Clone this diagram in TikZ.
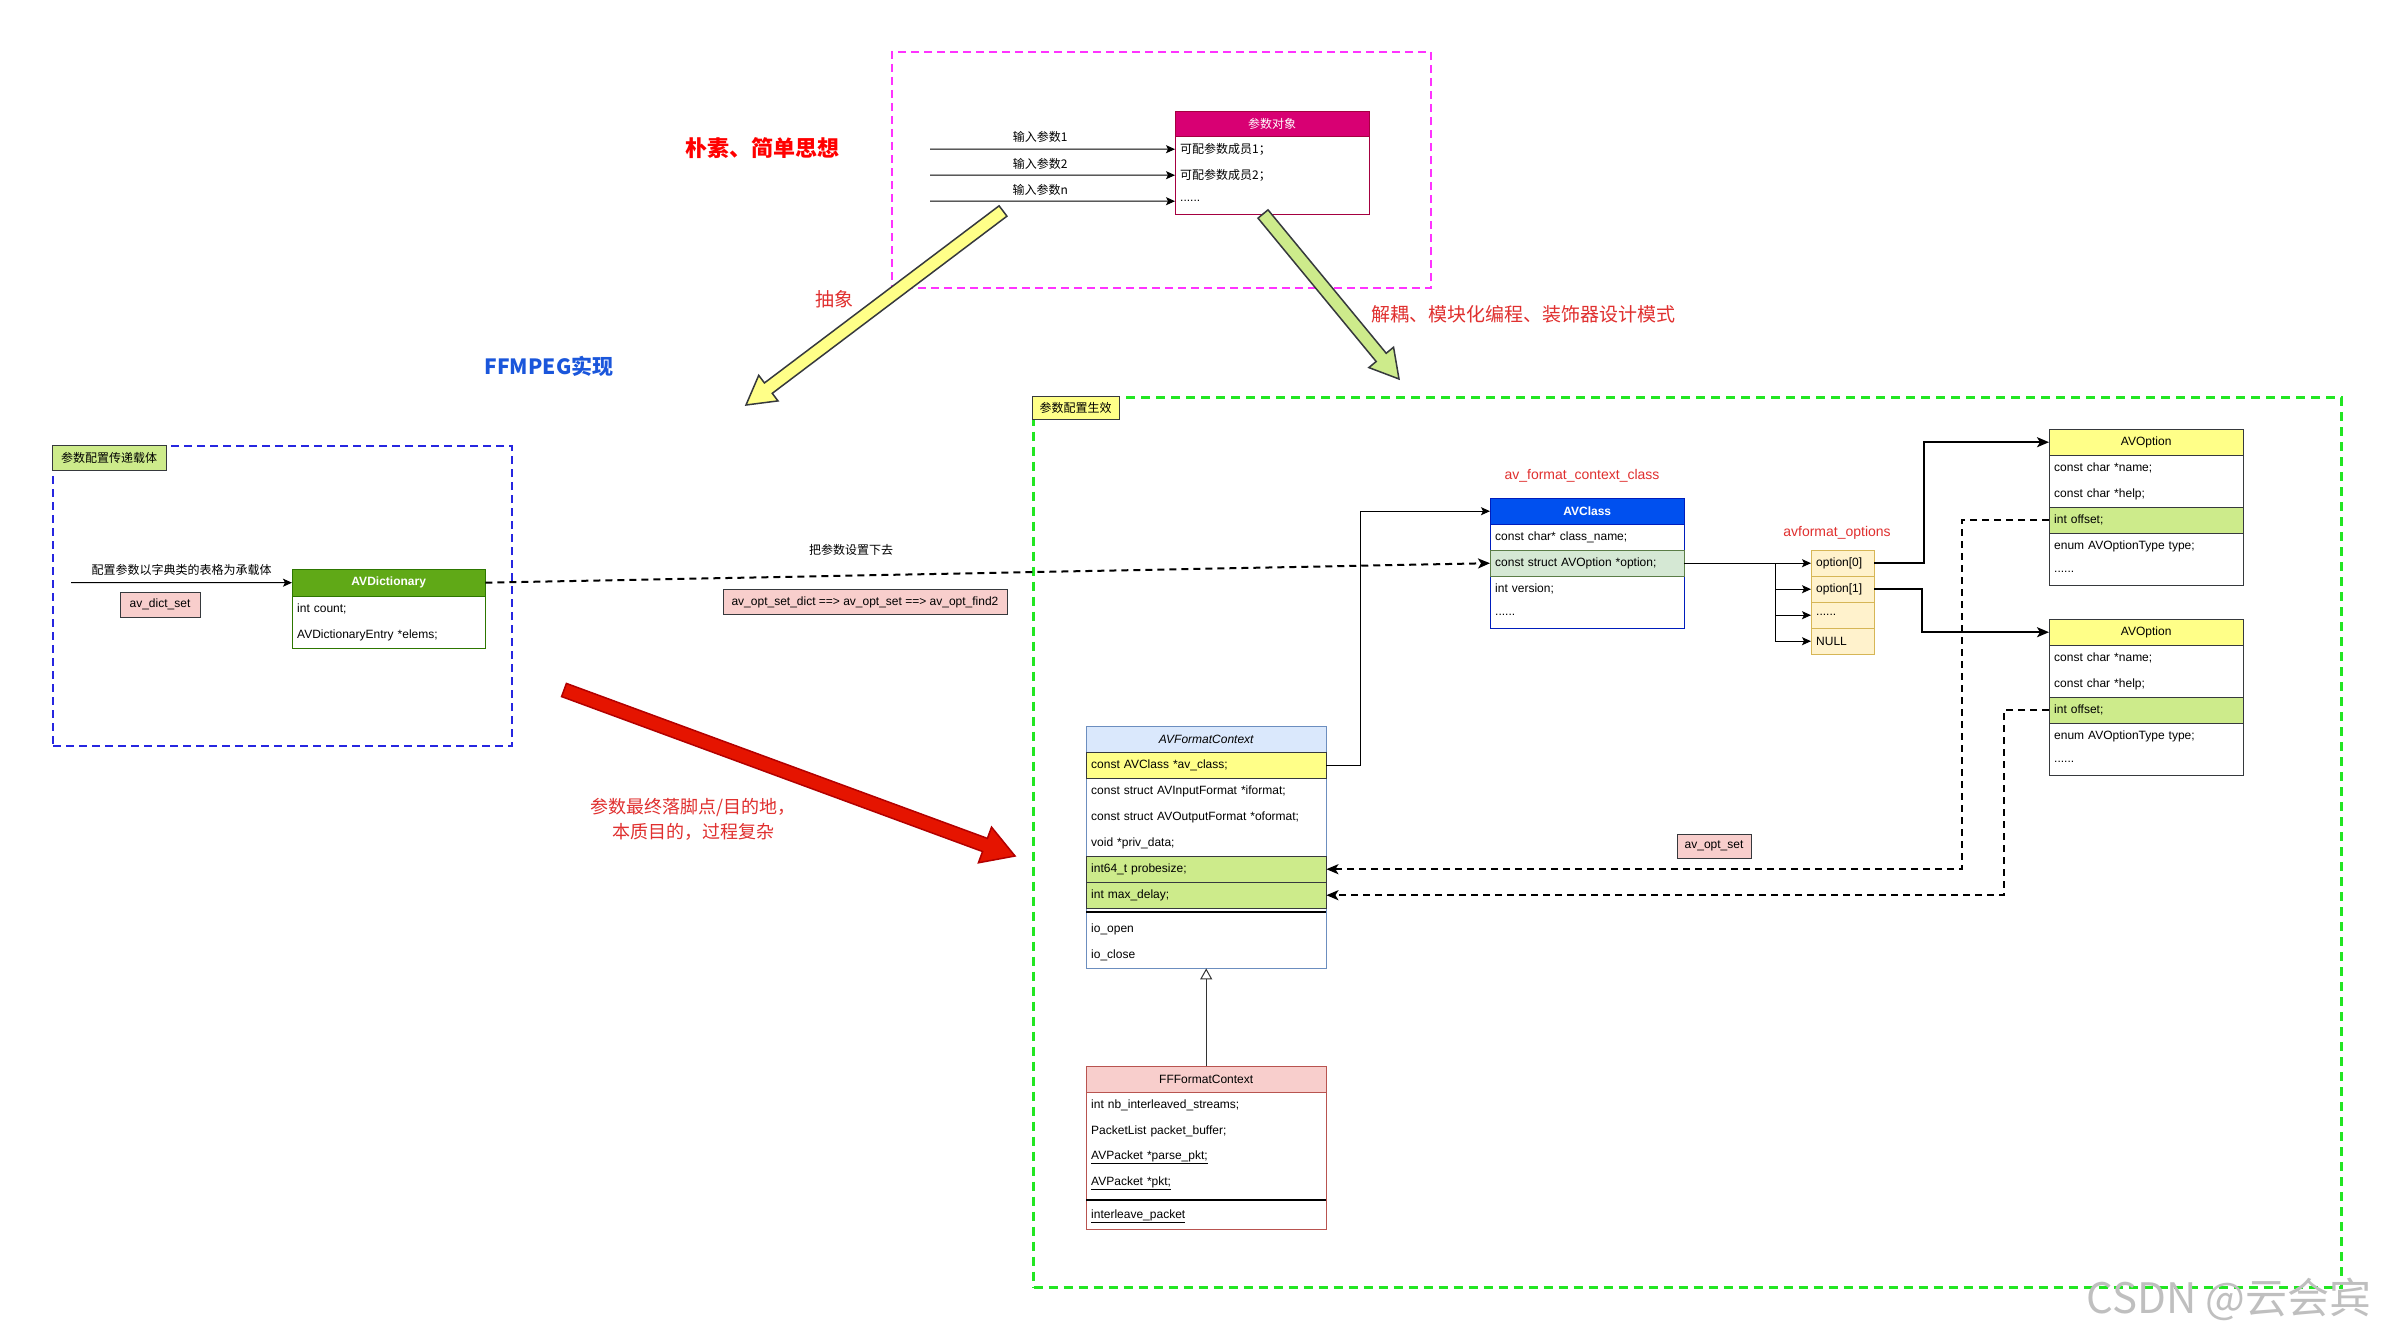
\documentclass[tikz,border=0pt]{standalone}
\usepackage{fontspec}
\setmainfont{Liberation Sans}
\newfontfamily\cjk{Noto Sans CJK SC}
\usetikzlibrary{calc,arrows.meta}
\definecolor{objfill}{HTML}{D80073}
\definecolor{objline}{HTML}{A50040}
\definecolor{dictfill}{HTML}{60A917}
\definecolor{dictline}{HTML}{2D7600}
\definecolor{clsfill}{HTML}{0050EF}
\definecolor{clsline}{HTML}{001DBC}
\definecolor{greenrow}{HTML}{CDEB8B}
\definecolor{optrowfill}{HTML}{D5E8D4}
\definecolor{optrowline}{HTML}{82B366}
\definecolor{yelfill}{HTML}{FFFF88}
\definecolor{arrfill}{HTML}{FFF2CC}
\definecolor{arrline}{HTML}{D6B656}
\definecolor{afcfill}{HTML}{DAE8FC}
\definecolor{afcline}{HTML}{6C8EBF}
\definecolor{fffill}{HTML}{F8CECC}
\definecolor{ffline}{HTML}{B85450}
\definecolor{pinkfill}{HTML}{F8CECC}
\definecolor{darkline}{HTML}{36393D}
\definecolor{magline}{HTML}{FF33FF}
\definecolor{blueline}{HTML}{2626E0}
\definecolor{greenline}{HTML}{22E622}
\definecolor{ffblue}{HTML}{1A56DB}
\definecolor{titlered}{HTML}{FF0000}
\definecolor{lblred}{HTML}{E0302F}
\definecolor{redarrow}{HTML}{E51400}
\definecolor{redarrowline}{HTML}{B20000}
\begin{document}
\begin{tikzpicture}[x=1pt,y=-1pt,
  f12/.style={font=\fontsize{12}{14}\selectfont},
  c12/.style={font=\cjk\fontsize{12}{14}\selectfont},
  umlrow/.style={anchor=north west,inner xsep=5pt,inner ysep=0pt,minimum height=26pt,align=left,f12},
  umlframe/.style={draw,anchor=north west,inner sep=0pt},
  ln/.style={line width=1pt,-{Stealth[length=9pt,width=8pt,inset=2pt]}},
  thk/.style={line width=2pt,-{Stealth[length=12pt,width=10pt,inset=3pt]}},
  dln/.style={line width=2pt,dash pattern=on 7pt off 5pt,-{Stealth[length=12pt,width=10pt,inset=3pt]}},
  tagbox/.style={draw=darkline,inner sep=0pt,anchor=north west,c12},
  pinkbox/.style={draw=darkline,fill=pinkfill,inner sep=0pt,f12},
  bigarrow/.style={line width=1.5pt,line join=miter},
  groupbox/.style={anchor=north west,inner sep=0pt,line width=2pt,dash pattern=on 8pt off 5pt}
]
\useasboundingbox[fill=white] (0,0) rectangle (2390,1338);

% ---------- group frames ----------
\node[groupbox,draw=magline,minimum width=539pt,minimum height=236pt] (magbox) at (891,51) {};
\node[groupbox,draw=blueline,minimum width=459pt,minimum height=300pt] (bluebox) at (52,445) {};
\node[groupbox,draw=greenline,line width=3pt,dash pattern=on 9pt off 6pt,minimum width=1308pt,minimum height=890pt] (greenbox) at (1032,396) {};
\node[tagbox,fill=greenrow,minimum width=114pt,minimum height=25pt] (tag1) at (52,445) {参数配置传递载体};
\node[tagbox,fill=yelfill,minimum width=87pt,minimum height=23pt] (tag2) at (1032,396) {参数配置生效};

% ---------- parameter object ----------
\node[umlframe,draw=objline,fill=white,minimum width=194pt,minimum height=103pt] (obj) at (1175,111) {};
\node[umlrow,text width=184pt,minimum height=25pt,fill=objfill,draw=objline,align=center,text=white,c12] (objh) at (1175,111) {参数对象};
\node[umlrow,text width=184pt,c12] (objr1) at (1175,136) {可配参数成员1；};
\node[umlrow,text width=184pt,c12] (objr2) at (1175,162) {可配参数成员2；};
\node[umlrow,text width=184pt,f12] (objr3) at (1175,188) {......};
\coordinate (in1) at (930,149);
\coordinate (in2) at (930,175);
\coordinate (in3) at (930,201);
\draw[ln] (in1) -- node[pos=0.45,above=3pt,c12] (lin1) {输入参数1} (objr1.west);
\draw[ln] (in2) -- node[pos=0.45,above=2pt,c12] (lin2) {输入参数2} (objr2.west);
\draw[ln] (in3) -- node[pos=0.45,above=2pt,c12] (lin3) {输入参数n} (objr3.west);

\node[text=titlered,font=\cjk\bfseries\fontsize{22}{26}\selectfont] (title) at (762,148) {朴素、简单思想};

% ---------- big arrows ----------
\coordinate (ya) at (1003,211);
\coordinate (yb) at (746,405);
\coordinate (yp) at ($(yb)!28pt!(ya)$);
\draw[bigarrow,fill=yelfill,draw=darkline] ($(ya)!6.5pt!90:(yb)$) -- ($(yp)!6.5pt!90:(yb)$) -- ($(yp)!16pt!90:(yb)$) -- (yb) -- ($(yp)!16pt!-90:(yb)$) -- ($(yp)!6.5pt!-90:(yb)$) -- ($(ya)!6.5pt!-90:(yb)$) -- cycle;
\coordinate (ga) at (1263,214);
\coordinate (gb) at (1399,379);
\coordinate (gp) at ($(gb)!28pt!(ga)$);
\draw[bigarrow,fill=greenrow,draw=darkline] ($(ga)!6.5pt!90:(gb)$) -- ($(gp)!6.5pt!90:(gb)$) -- ($(gp)!16pt!90:(gb)$) -- (gb) -- ($(gp)!16pt!-90:(gb)$) -- ($(gp)!6.5pt!-90:(gb)$) -- ($(ga)!6.5pt!-90:(gb)$) -- cycle;
\coordinate (ra) at (564,690);
\coordinate (rb) at (1015,856);
\coordinate (rp) at ($(rb)!32pt!(ra)$);
\draw[bigarrow,fill=redarrow,draw=redarrowline] ($(ra)!7pt!90:(rb)$) -- ($(rp)!7pt!90:(rb)$) -- ($(rp)!19pt!90:(rb)$) -- (rb) -- ($(rp)!19pt!-90:(rb)$) -- ($(rp)!7pt!-90:(rb)$) -- ($(ra)!7pt!-90:(rb)$) -- cycle;

\node[text=lblred,font=\cjk\fontsize{19}{22}\selectfont] (labs) at (834,299) {抽象};
\node[text=lblred,font=\cjk\fontsize{19}{22}\selectfont] (ldec) at (1523,314) {解耦、模块化编程、装饰器设计模式};
\node[text=ffblue,font=\cjk\bfseries\fontsize{21}{24}\selectfont] (lff) at (549,366) {FFMPEG实现};
\node[text=lblred,align=center,font=\cjk\fontsize{18}{25}\selectfont] (ldest) at (693,819) {参数最终落脚点/目的地，\\本质目的，过程复杂};

% ---------- AVDictionary ----------
\node[umlframe,draw=dictline,fill=white,minimum width=193pt,minimum height=79pt] (dict) at (292,569) {};
\node[umlrow,text width=183pt,minimum height=27pt,fill=dictfill,draw=dictline,align=center,text=white,font=\bfseries\fontsize{12}{14}\selectfont] (dicth) at (292,569) {AVDictionary};
\node[umlrow,text width=183pt] (dictr1) at (292,596) {int count;};
\node[umlrow,text width=183pt] (dictr2) at (292,622) {AVDictionaryEntry *elems;};
\coordinate (dstart) at (71,582.5);
\draw[ln] (dstart) -- node[midway,above=3pt,c12] (ldict) {配置参数以字典类的表格为承载体} (dicth.west);
\node[pinkbox,minimum width=80pt,minimum height=25pt] (dictset) at (160,604.5) {av\_dict\_set};

% ---------- AVClass ----------
\node[text=lblred,font=\fontsize{14}{16}\selectfont] (lcls) at (1582,476) {av\_format\_context\_class};
\node[umlframe,draw=clsline,fill=white,minimum width=194pt,minimum height=130pt] (cls) at (1490,498) {};
\node[umlrow,text width=184pt,fill=clsfill,draw=clsline,align=center,text=white,font=\bfseries\fontsize{12}{14}\selectfont] (clsh) at (1490,498) {AVClass};
\node[umlrow,text width=184pt] (clsname) at (1490,524) {const char* class\_name;};
\node[umlrow,text width=184pt,fill=optrowfill,draw=optrowline!70!black] (clsopt) at (1490,550) {const struct AVOption *option;};
\node[umlrow,text width=184pt] (clsver) at (1490,576) {int version;};
\node[umlrow,text width=184pt] (clsdots) at (1490,602) {......};

\draw[dln] (dicth.east) -- node[pos=0.364,above=16pt,c12] (lset) {把参数设置下去} (clsopt.west);
\node[pinkbox,minimum width=284pt,minimum height=25pt] (optsetdict) at (865,602) {av\_opt\_set\_dict ==> av\_opt\_set ==> av\_opt\_find2};

% ---------- options array ----------
\node[text=lblred,font=\fontsize{14}{16}\selectfont] (lopts) at (1837,533) {avformat\_options};
\node[umlrow,text width=53pt,fill=arrfill,draw=arrline] (opt0) at (1811,550) {option[0]};
\node[umlrow,text width=53pt,fill=arrfill,draw=arrline] (opt1) at (1811,576) {option[1]};
\node[umlrow,text width=53pt,fill=arrfill,draw=arrline] (opt2) at (1811,602) {......};
\node[umlrow,text width=53pt,fill=arrfill,draw=arrline] (opt3) at (1811,628) {NULL};
\draw[ln] (clsopt.east) -- (opt0.west);
\draw[ln] (clsopt.east) -- ++(91,0) |- (opt1.west);
\draw[ln] (clsopt.east) -- ++(91,0) |- (opt2.west);
\draw[ln] (clsopt.east) -- ++(91,0) |- (opt3.west);

% ---------- AVOption boxes ----------
\node[umlframe,draw=darkline,fill=white,minimum width=194pt,minimum height=156pt] (ao1) at (2049,429) {};
\node[umlrow,text width=184pt,fill=yelfill,draw=darkline,align=center] (ao1h) at (2049,429) {AVOption};
\node[umlrow,text width=184pt] (ao1a) at (2049,455) {const char *name;};
\node[umlrow,text width=184pt] (ao1b) at (2049,481) {const char *help;};
\node[umlrow,text width=184pt,fill=greenrow,draw=darkline] (off1) at (2049,507) {int offset;};
\node[umlrow,text width=184pt] (ao1c) at (2049,533) {enum AVOptionType type;};
\node[umlrow,text width=184pt] (ao1d) at (2049,559) {......};

\node[umlframe,draw=darkline,fill=white,minimum width=194pt,minimum height=156pt] (ao2) at (2049,619) {};
\node[umlrow,text width=184pt,fill=yelfill,draw=darkline,align=center] (ao2h) at (2049,619) {AVOption};
\node[umlrow,text width=184pt] (ao2a) at (2049,645) {const char *name;};
\node[umlrow,text width=184pt] (ao2b) at (2049,671) {const char *help;};
\node[umlrow,text width=184pt,fill=greenrow,draw=darkline] (off2) at (2049,697) {int offset;};
\node[umlrow,text width=184pt] (ao2c) at (2049,723) {enum AVOptionType type;};
\node[umlrow,text width=184pt] (ao2d) at (2049,749) {......};

\draw[thk] (opt0.east) -- ++(50,0) |- (ao1h.west);
\draw[thk] (opt1.east) -- ++(48,0) |- (ao2h.west);

% ---------- AVFormatContext ----------
\node[umlframe,draw=afcline,fill=white,minimum width=240pt,minimum height=242pt] (afc) at (1086,726) {};
\node[umlrow,text width=230pt,fill=afcfill,draw=afcline,align=center,font=\itshape\fontsize{12}{14}\selectfont] (afch) at (1086,726) {AVFormatContext};
\node[umlrow,text width=230pt,fill=yelfill,draw=darkline] (avcls) at (1086,752) {const AVClass *av\_class;};
\node[umlrow,text width=230pt] (ifmt) at (1086,778) {const struct AVInputFormat *iformat;};
\node[umlrow,text width=230pt] (ofmt) at (1086,804) {const struct AVOutputFormat *oformat;};
\node[umlrow,text width=230pt] (priv) at (1086,830) {void *priv\_data;};
\node[umlrow,text width=230pt,fill=greenrow,draw=darkline] (probe) at (1086,856) {int64\_t probesize;};
\node[umlrow,text width=230pt,fill=greenrow,draw=darkline] (maxd) at (1086,882) {int max\_delay;};
\draw[line width=1.5pt] (afc.west |- 0,912) -- (afc.east |- 0,912);
\node[umlrow,text width=230pt] (ioopen) at (1086,916) {io\_open};
\node[umlrow,text width=230pt] (ioclose) at (1086,942) {io\_close};

\draw[ln] (avcls.east) -- ++(34,0) |- (clsh.west);

\draw[dln] (off1.west) -- ++(-87,0) |- (probe.east);
\draw[dln] (off2.west) -- ++(-45,0) |- (maxd.east);
\node[pinkbox,minimum width=74pt,minimum height=24pt] (optset) at (1714,846) {av\_opt\_set};

% ---------- FFFormatContext ----------
\node[umlframe,draw=ffline,fill=white,minimum width=240pt,minimum height=163pt] (ff) at (1086,1066) {};
\node[umlrow,text width=230pt,fill=fffill,draw=ffline,align=center] (ffh) at (1086,1066) {FFFormatContext};
\node[umlrow,text width=230pt] (ffa) at (1086,1092) {int nb\_interleaved\_streams;};
\node[umlrow,text width=230pt] (ffb) at (1086,1118) {PacketList packet\_buffer;};
\node[umlrow,text width=230pt] (ffc) at (1086,1144) {\underline{AVPacket *parse\_pkt;}};
\node[umlrow,text width=230pt] (ffd) at (1086,1170) {\underline{AVPacket *pkt;}};
\draw[line width=1.5pt] (ff.west |- 0,1200) -- (ff.east |- 0,1200);
\node[umlrow,text width=230pt] (ffe) at (1086,1203) {\underline{interleave\_packet}};

\draw[line width=1pt,draw=black!80,-{Triangle[open,length=11pt,width=12pt]}] (ffh.north) -- (afc.south);

% ---------- watermark ----------
\node[text=black!25,font=\cjk\fontsize{42}{46}\selectfont] (wm) at (2229,1299) {CSDN @云会宾};
\end{tikzpicture}
\end{document}
